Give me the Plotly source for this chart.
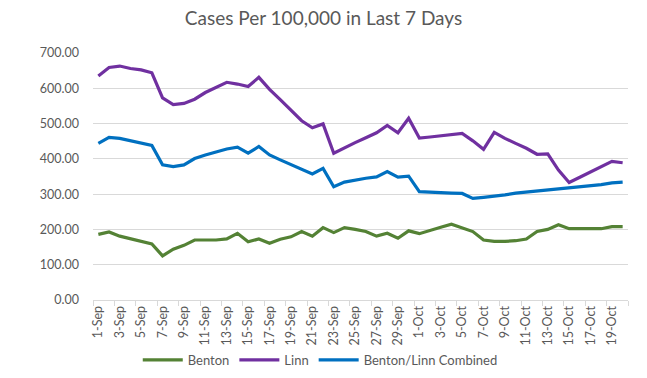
import plotly.graph_objects as go

dates = [f"{d}-Sep" for d in range(1, 31)] + [f"{d}-Oct" for d in range(1, 21)]

benton = [186, 193, 181, 174, 168, 159, 125, 144, 155, 170, 170, 170, 173, 189, 165, 173, 161,
          172, 179, 194, 181, 205, 191, 205, 200, 194, 181, 189, 175, 196,
          188, 196, 206, 215, 205, 194, 170, 166, 166, 168, 173, 194, 200, 213, 202, 202, 202, 202, 208, 208]
linn = [635, 659, 663, 656, 652, 644, 573, 554, 557, 569, 588, 602, 617, 612, 605, 631, 597,
        568, 539, 508, 488, 499, 416, 432, 446, 460, 474, 495, 474, 515,
        459, 462, 466, 468, 472, 451, 427, 475, 458, 444, 430, 413, 414, 368, 333, 348, 363, 378, 393, 389]
combined = [444, 461, 458, 451, 446, 438, 383, 378, 383, 401, 411, 420, 428, 433, 416, 435, 411,
            397, 383, 370, 357, 373, 321, 334, 340, 345, 349, 364, 348, 351,
            307, 305, 303, 303, 302, 288, 291, 294, 298, 303, 306, 309, 312, 315, 317, 320, 323, 327, 332, 334]

series = [("Benton", benton, "#548235"), ("Linn", linn, "#7030A0"), ("Benton/Linn Combined", combined, "#0070C0")]

fig = go.Figure()
for name, vals, color in series:
    fig.add_trace(go.Scatter(x=dates, y=vals, name=name, mode="lines",
                             line=dict(color=color, width=3.2)))

fig.update_layout(
    width=647, height=378,
    margin=dict(l=93, r=19, t=53, b=78, autoexpand=False),
    paper_bgcolor="white", plot_bgcolor="white",
    font=dict(family="Lato, Carlito, sans-serif", color="#595959", size=12),
    title=dict(text="Cases Per 100,000 in Last 7 Days", x=0.5, xanchor="center",
               xref="container", yref="container",
               y=0.952, yanchor="middle", font=dict(size=19, color="#595959"),
               automargin=False),
    legend=dict(orientation="h", xref="container", yref="container",
                x=0.495, xanchor="center", y=0.048, yanchor="middle",
                font=dict(size=13, color="#595959"), itemwidth=40, traceorder="normal"),
    showlegend=True,
)
fig.update_xaxes(type="category", dtick=2, tickson="boundaries", tickangle=-90,
                 showline=True, linecolor="#D9D9D9", linewidth=1,
                 ticks="outside", ticklen=5, tickcolor="#D9D9D9", automargin=False,
                 showgrid=False, range=[-0.5, 49.5], tickfont=dict(size=12.5))
fig.update_yaxes(range=[0, 700], dtick=100, tickformat=".2f", showgrid=True,
                 gridcolor="#D9D9D9", gridwidth=1, zeroline=False, showline=False,
                 ticks="", tickfont=dict(size=12.5), ticklabelstandoff=13, automargin=False)

fig.write_html("out.html", config={"displayModeBar": False},
               post_script="document.body.style.margin='0';document.body.style.padding='0';")
